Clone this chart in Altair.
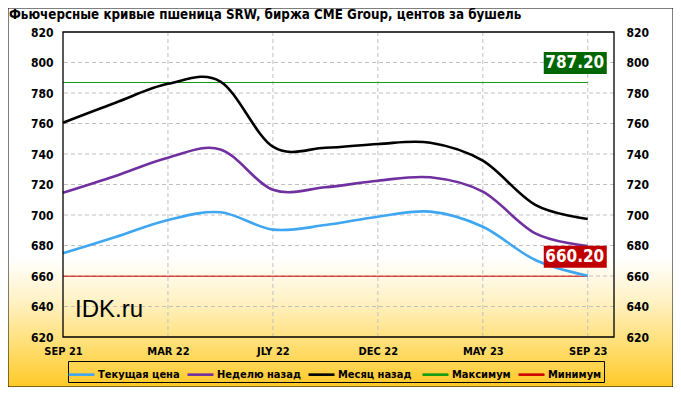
import altair as alt
import pandas as pd

# ---------------- data ----------------
contracts = ["SEP 21", "DEC 21", "MAR 22", "MAY 22", "JLY 22", "SEP 22",
             "DEC 22", "MAR 23", "MAY 23", "JLY 23", "SEP 23"]
current = [674.9, 685.5, 696.7, 701.8, 690.4, 693.4, 698.9, 702.2, 692.3, 670.5, 660.2]
week_ago = [714.6, 725.6, 737.6, 743.0, 716.6, 718.2, 722.5, 724.7, 715.3, 688.0, 679.7]
month_ago = [760.5, 773.6, 786.0, 787.5, 744.8, 744.1, 746.6, 747.4, 735.6, 706.6, 697.4]
series_names = ["Текущая цена", "Неделю назад", "Месяц  назад", "Максимум", "Минимум"]
series_colors = ["#3FA6F2", "#7030A0", "#000000", "#119C11", "#CC0000"]
series_widths = [2.6, 2.6, 2.6, 1.0, 1.0]
max_value = 787.20
min_value = 660.20
y_ticks = [620, 640, 660, 680, 700, 720, 740, 760, 780, 800, 820]
x_tick_idx = [0, 2, 4, 6, 8, 10]
title_text = "Фьючерсные  кривые  пшеница  SRW,  биржа CME  Group,  центов за бушель"
watermark = "IDK.ru"

# ---------------- tables ----------------
rows = []
for name, vals in zip(series_names[:3], [current, week_ago, month_ago]):
    for i, v in enumerate(vals):
        rows.append({"idx": i, "value": v, "series": name})
curves = pd.DataFrame(rows)

last = len(contracts) - 1
limits = pd.DataFrame([
    {"idx": 0, "value": max_value, "series": series_names[3]},
    {"idx": last, "value": max_value, "series": series_names[3]},
    {"idx": 0, "value": min_value, "series": series_names[4]},
    {"idx": last, "value": min_value, "series": series_names[4]},
])
ann = pd.DataFrame({
    "idx": [last, last],
    "idx2": [last, last],
    "value": [max_value, min_value],
    "value2": [max_value, min_value],
    "label": [f"{max_value:.2f}", f"{min_value:.2f}"],
    "box": ["#006600", "#C00000"],
})
grid_y = pd.DataFrame({"value": y_ticks[1:-1]})
grid_x = pd.DataFrame({"idx": x_tick_idx[1:]})
one = pd.DataFrame({"t": [title_text], "w": [watermark]})

W, H = 551, 305
FONT = "DejaVu Sans Condensed"
label_expr = "[" + ",".join(f"'{c}'" for c in contracts) + "][datum.value]"

xscale = alt.Scale(domain=[0, 10.5], nice=False, zero=False)
yscale = alt.Scale(domain=[620, 820], nice=False, zero=False)

x_axis = alt.Axis(values=x_tick_idx, labelExpr=label_expr, title=None, grid=False,
                  ticks=False, domain=False, labelFont=FONT, labelFontWeight="bold",
                  labelFontSize=11, labelColor="black", labelPadding=8,
                  labelFlush=False, labelOverlap=False, zindex=1)
y_left = alt.Axis(values=y_ticks, title=None, grid=False, ticks=False, domain=False,
                  labelFont=FONT, labelFontWeight="bold", labelFontSize=12,
                  labelColor="black", labelPadding=10, zindex=1, orient="left")
y_right = alt.Axis(values=y_ticks, title=None, grid=False, ticks=False, domain=False,
                   labelFont=FONT, labelFontWeight="bold", labelFontSize=12,
                   labelColor="black", labelPadding=12, zindex=1, orient="right")

X = alt.X("idx:Q", scale=xscale, axis=x_axis)

legend = alt.Legend(orient="none", legendX=5, legendY=329, direction="horizontal",
                    columns=5, title=None, symbolType="M-1.3,0H1.3", symbolSize=400,
                    labelFont=FONT, labelFontWeight="bold", labelFontSize=11,
                    labelColor="black", strokeColor="black", padding=2,
                    columnPadding=2, labelOffset=5, zindex=1)
color_enc = alt.Color("series:N", scale=alt.Scale(domain=series_names, range=series_colors),
                      legend=legend)
width_enc = alt.StrokeWidth("series:N",
                            scale=alt.Scale(domain=series_names, range=series_widths),
                            legend=legend)

gradient = alt.LinearGradient(
    gradient="linear", x1=0, x2=0, y1=0, y2=1,
    stops=[alt.GradientStop(offset=0, color="#FFFFFF"),
           alt.GradientStop(offset=0.66, color="#FFFFFF"),
           alt.GradientStop(offset=0.77, color="#FFF2C6"),
           alt.GradientStop(offset=0.88, color="#FFE07A"),
           alt.GradientStop(offset=1.0, color="#FFC927")])

bg = alt.Chart(one).mark_rect(fill=gradient, stroke="black", strokeWidth=1).encode(
    x=alt.value(-55), x2=alt.value(W + 59), y=alt.value(-24), y2=alt.value(H + 50))

gh = alt.Chart(grid_y).mark_rule(color="#C0C0C0", strokeDash=[4, 3], strokeWidth=1).encode(
    y=alt.Y("value:Q", scale=yscale, axis=None))
gv = alt.Chart(grid_x).mark_rule(color="#C0C0C0", strokeDash=[4, 3], strokeWidth=1).encode(
    x=X)

lim = alt.Chart(limits).mark_line(strokeWidth=1, yOffset=0.5).encode(
    x=X, y=alt.Y("value:Q", scale=yscale, axis=None), color=color_enc,
    detail="series:N")

lines = alt.Chart(curves).mark_line(interpolate="cardinal").encode(
    x=X, y=alt.Y("value:Q", scale=yscale, axis=y_left), color=color_enc,
    strokeWidth=width_enc)

frame = alt.Chart(one).mark_rect(fill=None, stroke="black", strokeWidth=1.3).encode(
    x=alt.value(0), x2=alt.value(W), y=alt.value(0), y2=alt.value(H))

right_axis = alt.Chart(grid_y).mark_rule(opacity=0).encode(
    y=alt.Y("value:Q", scale=yscale, axis=y_right))

boxes = alt.Chart(ann).mark_rect(xOffset=-44, x2Offset=19, yOffset=-30, y2Offset=-8).encode(
    x=X, x2="idx2:Q", y=alt.Y("value:Q", scale=yscale, axis=None), y2="value2:Q",
    fill=alt.Fill("box:N", scale=None))
btxt = alt.Chart(ann).mark_text(dx=-13, dy=-19, font=FONT, fontWeight="bold", fontSize=17,
                                color="white", align="center", baseline="middle").encode(
    x=X, y=alt.Y("value:Q", scale=yscale, axis=None), text="label:N")

title = alt.Chart(one).mark_text(align="left", baseline="alphabetic", font=FONT,
                                 fontWeight="bold", fontSize=13.3, color="black").encode(
    x=alt.value(-54), y=alt.value(-13), text="t:N")
wm = alt.Chart(one).mark_text(align="left", baseline="alphabetic", font="Liberation Sans",
                              fontSize=24, color="black").encode(
    x=alt.value(12), y=alt.value(285), text="w:N")

chart = alt.layer(bg, gh, gv, lim, lines, frame, right_axis, boxes, btxt, title, wm).resolve_axis(
    y="independent"
).properties(
    width=W, height=H,
    autosize=alt.AutoSizeParams(type="none"),
    padding={"left": 55, "top": 24, "right": 59, "bottom": 50},
    background="white",
).configure_view(stroke=None)

chart.save("out.html", embed_options={"renderer": "svg", "actions": False})
